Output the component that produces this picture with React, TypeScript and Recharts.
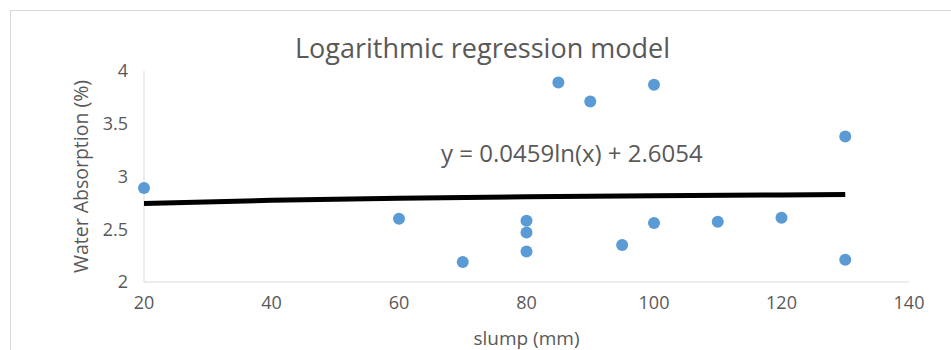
import { Scatter, ScatterChart, XAxis, YAxis } from "recharts";

// Measured points: slump (mm) vs water absorption (%)
const slump = [20, 60, 70, 80, 80, 80, 85, 90, 95, 100, 100, 110, 120, 130, 130];
const absorption = [2.89, 2.6, 2.19, 2.58, 2.47, 2.29, 3.89, 3.71, 2.35, 3.87, 2.56, 2.57, 2.61, 3.38, 2.21];

// Trend line at a few slump values
const trendX = [20, 40, 60, 80, 100, 120, 130];
const trendY = [2.743, 2.775, 2.793, 2.807, 2.817, 2.825, 2.829];

const xTicks = [20, 40, 60, 80, 100, 120, 140];
const yTicks = [2, 2.5, 3, 3.5, 4];

const DOT_COLOR = "#5b9bd5";
const TEXT_COLOR = "#595959";
const AXIS_COLOR = "#d9d9d9";
const FONT = "'Open Sans', 'Noto Sans', sans-serif";

const points = slump.map((x, i) => ({ x, y: absorption[i] }));
const trend = trendX.map((x, i) => ({ x, y: trendY[i] }));

const tick = { fontSize: 18, fill: TEXT_COLOR, fontFamily: FONT };

export default function App() {
  return (
    <div style={{ position: "absolute", left: 0, top: 0, width: 951, height: 350, background: "#fff", fontFamily: FONT, overflow: "hidden" }}>
      <div
        style={{
          position: "absolute",
          left: 10,
          top: 10,
          width: 960,
          height: 360,
          border: `1px solid ${AXIS_COLOR}`,
        }}
      />
      <div style={{ position: "absolute", left: 0, width: 965, top: 29, textAlign: "center", fontSize: 27, color: TEXT_COLOR }}>
        Logarithmic regression model
      </div>
      <div style={{ position: "absolute", left: 441, top: 136, fontSize: 24, color: TEXT_COLOR, whiteSpace: "nowrap" }}>
        y = 0.0459ln(x) + 2.6054
      </div>
      <ScatterChart width={951} height={350} margin={{ top: 71, right: 42, bottom: 38, left: 90 }} style={{ position: "absolute", left: 0, top: 0 }}>
        <XAxis
          type="number"
          dataKey="x"
          domain={[20, 140]}
          ticks={xTicks}
          tick={tick}
          tickSize={0}
          tickMargin={14}
          axisLine={{ stroke: AXIS_COLOR }}
          label={{ value: "slump (mm)", position: "insideBottom", offset: -33, fill: TEXT_COLOR, fontSize: 19, fontFamily: FONT }}
        />
        <YAxis
          type="number"
          dataKey="y"
          domain={[2, 4]}
          ticks={yTicks}
          tick={tick}
          tickSize={0}
          tickMargin={16}
          width={54}
          axisLine={{ stroke: AXIS_COLOR }}
          label={{ value: "Water Absorption (%)", angle: -90, position: "insideLeft", offset: -9, fill: TEXT_COLOR, fontSize: 19.5, fontFamily: FONT, style: { textAnchor: "middle" } }}
        />
        <Scatter data={points} fill={DOT_COLOR} isAnimationActive={false} shape={(p: any) => <circle cx={p.cx} cy={p.cy} r={6} fill={DOT_COLOR} />} />
        <Scatter
          data={trend}
          line={{ stroke: "#000", strokeWidth: 5 }}
          lineType="joint"
          isAnimationActive={false}
          shape={() => <g />}
        />
      </ScatterChart>
    </div>
  );
}
